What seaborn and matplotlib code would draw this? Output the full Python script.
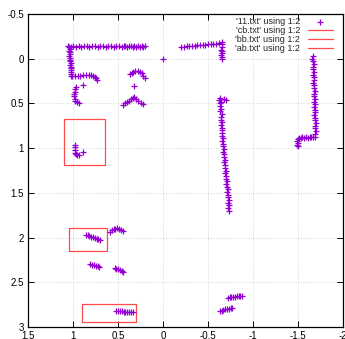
import numpy as np
import pandas as pd
import seaborn as sns
import matplotlib.pyplot as plt
from matplotlib.ticker import FuncFormatter, MultipleLocator

# scan points ('11.txt'), grouped by wall segment
top_wall_x = [1.06, 1.03, 1.00, 0.97, 0.94, 0.91, 0.88, 0.85, 0.82, 0.79, 0.76, 0.73,
              0.70, 0.67, 0.64, 0.61, 0.58, 0.55, 0.52, 0.49, 0.46, 0.44, 0.42, 0.40,
              0.38, 0.36, 0.34, 0.32, 0.30, 0.28, 0.26, 0.24, 0.22, 0.20]
top_wall_y = [-0.14, -0.135, -0.14, -0.135, -0.14, -0.135, -0.14, -0.14, -0.135, -0.14, -0.14, -0.135,
              -0.14, -0.14, -0.135, -0.14, -0.14, -0.135, -0.14, -0.14, -0.135, -0.14, -0.14, -0.135,
              -0.14, -0.14, -0.135, -0.14, -0.135, -0.14, -0.135, -0.14, -0.135, -0.14]

left_wall_x = [1.05, 1.04, 1.05, 1.04, 1.04, 1.05, 1.04, 1.04, 1.04, 1.03, 1.04, 1.03,
               1.03, 1.03, 1.02, 1.02, 1.02]
left_wall_y = [-0.13, -0.11, -0.09, -0.07, -0.05, -0.03, -0.01, 0.01, 0.03, 0.05, 0.07, 0.09,
               0.11, 0.13, 0.15, 0.17, 0.19]

lower_wall_x = [1.01, 0.98, 0.95, 0.92, 0.89, 0.86, 0.83, 0.80, 0.78, 0.76, 0.745, 0.735]
lower_wall_y = [0.19, 0.19, 0.19, 0.19, 0.185, 0.18, 0.18, 0.185, 0.19, 0.205, 0.22, 0.235]

chair_x = [0.965, 0.975, 0.98, 0.99, 0.99, 0.985, 0.975, 0.96, 0.94]
chair_y = [0.32, 0.34, 0.37, 0.40, 0.42, 0.45, 0.47, 0.48, 0.49]

arc_a_x = [0.37, 0.35, 0.333, 0.31, 0.278, 0.26, 0.24, 0.22, 0.203]
arc_a_y = [0.175, 0.16, 0.145, 0.14, 0.134, 0.145, 0.163, 0.19, 0.218]

arc_b_x = [0.444, 0.42, 0.40, 0.381, 0.36, 0.34, 0.322, 0.30, 0.278, 0.25, 0.222]
arc_b_y = [0.517, 0.50, 0.485, 0.472, 0.455, 0.44, 0.431, 0.45, 0.469, 0.49, 0.509]

single_x = [0.896, 0.322, 0.0]
single_y = [0.30, 0.304, 0.0]

mid_wall_x = [-0.20, -0.23, -0.26, -0.29, -0.32, -0.35, -0.38, -0.41, -0.44, -0.47,
              -0.50, -0.53, -0.56, -0.59, -0.62,
              -0.65, -0.66, -0.65, -0.64, -0.66, -0.65, -0.64, -0.66, -0.65]
mid_wall_y = [-0.13, -0.135, -0.14, -0.14, -0.145, -0.145, -0.15, -0.15, -0.155, -0.155,
              -0.16, -0.16, -0.165, -0.165, -0.17,
              -0.19, -0.16, -0.13, -0.10, -0.08, -0.06, -0.04, -0.02, 0.0]

long_wall_x = [-0.63, -0.62, -0.64, -0.63, -0.63, -0.64, -0.63, -0.65, -0.64, -0.64,
               -0.65, -0.64, -0.66, -0.65, -0.66, -0.66, -0.67, -0.66, -0.67, -0.67,
               -0.68, -0.67, -0.68, -0.68, -0.69, -0.68, -0.69, -0.69, -0.70, -0.69,
               -0.70, -0.70, -0.71, -0.70, -0.71, -0.72, -0.71, -0.72, -0.72, -0.73,
               -0.72, -0.73, -0.72, -0.73, -0.70, -0.68]
long_wall_y = [0.44, 0.46, 0.48, 0.50, 0.53, 0.56, 0.59, 0.62, 0.65, 0.68,
               0.71, 0.74, 0.77, 0.80, 0.83, 0.86, 0.89, 0.92, 0.95, 0.98,
               1.01, 1.04, 1.07, 1.10, 1.13, 1.16, 1.19, 1.22, 1.25, 1.28,
               1.31, 1.34, 1.37, 1.40, 1.43, 1.46, 1.49, 1.52, 1.55, 1.58,
               1.61, 1.64, 1.67, 1.70, 0.46, 0.455]

right_wall_x = [-1.67, -1.66, -1.67, -1.68, -1.67, -1.67, -1.68, -1.67, -1.68, -1.68,
                -1.67, -1.68, -1.68, -1.69, -1.68, -1.68, -1.69, -1.68, -1.69, -1.68,
                -1.69, -1.69, -1.68, -1.69, -1.69, -1.70, -1.69, -1.69, -1.70, -1.69,
                -1.69,
                -1.67, -1.65, -1.63, -1.61, -1.59, -1.57, -1.55, -1.53, -1.51,
                -1.495, -1.49, -1.50, -1.49, -1.495]
right_wall_y = [-0.03, 0.00, 0.03, 0.06, 0.09, 0.12, 0.15, 0.18, 0.21, 0.24,
                0.27, 0.30, 0.33, 0.36, 0.39, 0.42, 0.45, 0.48, 0.51, 0.54,
                0.57, 0.60, 0.63, 0.66, 0.69, 0.72, 0.75, 0.78, 0.81, 0.84,
                0.87,
                0.88, 0.875, 0.88, 0.885, 0.88, 0.885, 0.88, 0.885, 0.89,
                0.90, 0.92, 0.94, 0.96, 0.98]

box_pts_x = [0.98, 0.985, 0.98, 0.975, 0.97, 0.955, 0.94, 0.895]
box_pts_y = [0.96, 0.99, 1.02, 1.05, 1.07, 1.08, 1.075, 1.04]

low_a_x = [0.86, 0.84, 0.82, 0.80, 0.78, 0.76, 0.74, 0.72, 0.70]
low_a_y = [1.97, 1.975, 1.98, 1.99, 1.99, 2.0, 2.01, 2.02, 2.03]

low_b_x = [0.59, 0.57, 0.55, 0.53, 0.51, 0.49, 0.47, 0.45]
low_b_y = [1.94, 1.92, 1.905, 1.90, 1.895, 1.90, 1.91, 1.925]

low_c_x = [0.81, 0.79, 0.77, 0.75, 0.73, 0.71]
low_c_y = [2.30, 2.305, 2.31, 2.315, 2.32, 2.325]

low_d_x = [0.54, 0.52, 0.50, 0.48, 0.46, 0.445]
low_d_y = [2.335, 2.345, 2.355, 2.365, 2.375, 2.385]

low_e_x = [0.52, 0.50, 0.48, 0.46, 0.44, 0.42, 0.40, 0.38, 0.36, 0.34]
low_e_y = [2.82, 2.82, 2.825, 2.825, 2.83, 2.83, 2.83, 2.83, 2.83, 2.83]

low_f_x = [-0.72, -0.74, -0.76, -0.78, -0.80, -0.82, -0.84, -0.86, -0.88,
           -0.63, -0.65, -0.67, -0.69, -0.71, -0.73, -0.75, -0.77]
low_f_y = [2.67, 2.665, 2.66, 2.66, 2.66, 2.655, 2.655, 2.65, 2.65,
           2.82, 2.815, 2.81, 2.80, 2.80, 2.795, 2.79, 2.785]

# rectangles ('cb.txt', 'bb.txt', 'ab.txt')
cb_x = [1.103, 0.648, 0.648, 1.103, 1.103]
cb_y = [0.677, 0.677, 1.187, 1.187, 0.677]
bb_x = [1.048, 0.629, 0.629, 1.048, 1.048]
bb_y = [1.894, 1.894, 2.145, 2.145, 1.894]
ab_x = [0.90, 0.303, 0.303, 0.90, 0.90]
ab_y = [2.744, 2.744, 2.945, 2.945, 2.744]

x_ticks = [1.5, 1, 0.5, 0, -0.5, -1, -1.5, -2]
y_ticks = [-0.5, 0, 0.5, 1, 1.5, 2, 2.5, 3]

PURPLE = '#9400d3'
RED = '#ff4a4a'


def tick_fmt(v, pos):
    return f'{v:g}'


def main():
    sns.set_style('ticks')
    plt.rcParams['font.family'] = ['Liberation Sans', 'DejaVu Sans']

    xs = (top_wall_x + left_wall_x + lower_wall_x + chair_x + arc_a_x + arc_b_x + single_x
          + mid_wall_x + long_wall_x + right_wall_x + box_pts_x + low_a_x + low_b_x
          + low_c_x + low_d_x + low_e_x + low_f_x)
    ys = (top_wall_y + left_wall_y + lower_wall_y + chair_y + arc_a_y + arc_b_y + single_y
          + mid_wall_y + long_wall_y + right_wall_y + box_pts_y + low_a_y + low_b_y
          + low_c_y + low_d_y + low_e_y + low_f_y)
    scan = pd.DataFrame({'x': xs, 'y': ys})

    fig = plt.figure(figsize=(3.45, 3.39), dpi=100)
    ax = fig.add_axes([0.082, 0.035, 0.912, 0.924])

    sns.scatterplot(data=scan, x='x', y='y', marker='+', s=22, linewidth=0.9,
                    color=PURPLE, label="'11.txt' using 1:2", ax=ax, zorder=3)
    ax.plot(cb_x, cb_y, color=RED, lw=0.9, label="'cb.txt' using 1:2")
    ax.plot(bb_x, bb_y, color=RED, lw=0.9, label="'bb.txt' using 1:2")
    ax.plot(ab_x, ab_y, color=RED, lw=0.9, label="'ab.txt' using 1:2")

    ax.set_xlim(1.5, -2)
    ax.set_ylim(3, -0.5)
    ax.set_xticks(x_ticks)
    ax.set_yticks(y_ticks)
    ax.xaxis.set_major_formatter(FuncFormatter(tick_fmt))
    ax.yaxis.set_major_formatter(FuncFormatter(tick_fmt))
    ax.set_xlabel('')
    ax.set_ylabel('')

    ax.grid(True, color='#c8c8c8', linestyle=(0, (1, 2)), linewidth=0.6)
    ax.set_axisbelow(True)
    for sp in ax.spines.values():
        sp.set_visible(True)
        sp.set_color('black')
        sp.set_linewidth(0.9)
    ax.tick_params(direction='in', top=True, right=True, length=4, width=0.7,
                   labelsize=7, pad=3, colors='black')

    ax.legend(loc='upper right', bbox_to_anchor=(0.968, 0.99), markerfirst=False,
              frameon=False, fontsize=6.5, handlelength=2.75, handletextpad=0.9,
              labelspacing=0.0, borderpad=0, borderaxespad=0)

    fig.savefig('out.png', dpi=100)


if __name__ == "__main__":
    main()
